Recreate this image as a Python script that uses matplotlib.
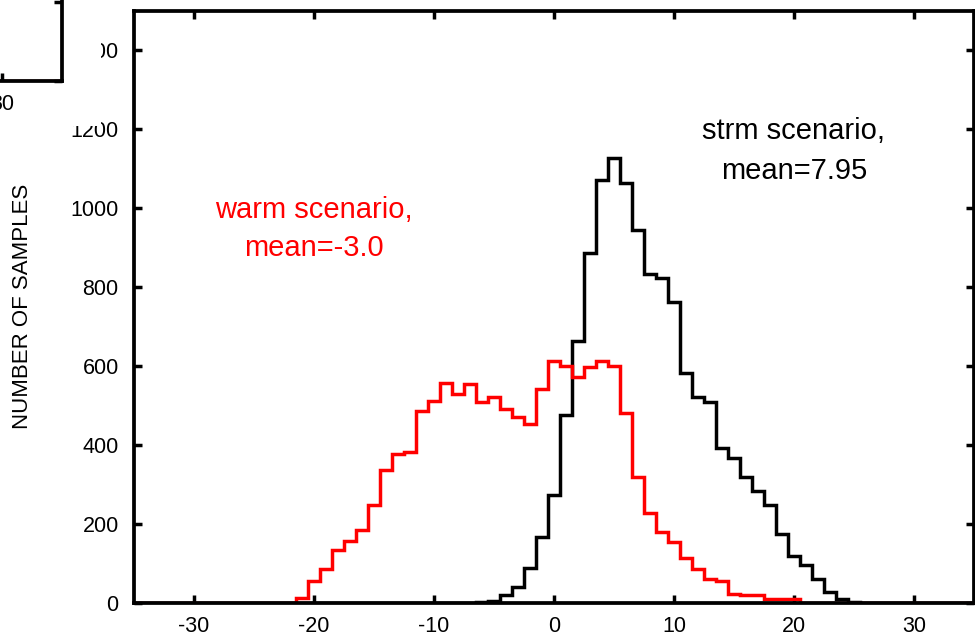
import numpy as np
import matplotlib
matplotlib.use("Agg")
import matplotlib.pyplot as plt
from matplotlib.patches import Rectangle

plt.rcParams['font.family'] = ['Liberation Sans', 'DejaVu Sans']
plt.rcParams['axes.unicode_minus'] = False

# ---- data (bin centres, 1-unit bins) ----
warm_start = -21
warm_counts = [12, 56, 85, 134, 158, 185, 248, 337, 376, 383, 486, 511, 558, 529,
               554, 508, 521, 491, 471, 453, 543, 612, 599, 573, 598, 613, 601,
               481, 320, 228, 181, 154, 115, 85, 62, 56, 24, 19, 19, 9, 9, 9]
strm_start = -6
strm_counts = [2, 6, 20, 40, 88, 168, 273, 476, 664, 887, 1071, 1126, 1064, 944,
               833, 822, 763, 583, 521, 510, 392, 366, 320, 284, 248, 175, 119,
               96, 60, 29, 9, 3, 1, 1]
inset_counts = [0, 0, 0, 0, 0, 0, 0, 0, 0, 0, 0]   # visible tail of left panel, centres 25..35
inset_start = 25

x_ticks = [-30, -20, -10, 0, 10, 20, 30]
y_ticks = [0, 200, 400, 600, 800, 1000, 1200, 1400]
xlim = (-35, 35)
ylim = (0, 1500)

centres = np.arange(xlim[0], xlim[1] + 1)


def full(start, counts):
    v = np.zeros(len(centres))
    i0 = start - xlim[0]
    v[i0:i0 + len(counts)] = counts
    return v


edges = np.concatenate([[xlim[0]], centres[:-1] + 0.5, [xlim[1]]])

W, H = 975, 636
fig = plt.figure(figsize=(W / 100, H / 100), dpi=100)
fig.patch.set_facecolor('white')

L, R, T, B = 134, 974, 10.5, 603
ax = fig.add_axes([L / W, (H - B) / H, (R - L) / W, (B - T) / H])

lw = 2.5
ax.stairs(full(strm_start, strm_counts), edges, color='black', lw=lw, baseline=None, zorder=2)
ax.stairs(full(warm_start, warm_counts), edges, color='#ff0000', lw=lw, baseline=None, zorder=2.1)

ax.set_xlim(*xlim)
ax.set_ylim(*ylim)
ax.set_xticks(x_ticks)
ax.set_yticks(y_ticks)
ax.tick_params(axis='both', which='major', direction='in', length=6, width=2.5,
               top=True, right=True, labelsize=15.5, colors='black')
ax.tick_params(axis='x', pad=9)
ax.tick_params(axis='y', pad=11)
for s in ax.spines.values():
    s.set_linewidth(2.7)
ax.set_ylabel('NUMBER OF SAMPLES', fontsize=16)
ax.yaxis.set_label_coords((33 - L) / (R - L), 0.5)

ax.text(-20.0, 995, 'warm scenario,', color='#ff0000', fontsize=21, ha='center', va='center')
ax.text(-20.0, 900, 'mean=-3.0', color='#ff0000', fontsize=21, ha='center', va='center')
ax.text(20.0, 1195, 'strm scenario,', color='black', fontsize=21, ha='center', va='center')
ax.text(20.0, 1094, 'mean=7.95', color='black', fontsize=21, ha='center', va='center')

# white block from the neighbouring panel that hides part of the top y labels
fig.patches.append(Rectangle((0, (H - 126) / H), 101 / W, 126 / H,
                             transform=fig.transFigure, facecolor='white',
                             edgecolor='none', zorder=1))

# neighbouring panel (only its lower-right corner is visible)
iR, iB = 62, 81
ih = B - T
iw = R - L
ax2 = fig.add_axes([(iR - iw) / W, (H - iB) / H, iw / W, ih / H], zorder=2)
ax2.set_facecolor('none')
ic = np.arange(inset_start, inset_start + len(inset_counts))
ax2.stairs(inset_counts, np.concatenate([ic - 0.5, [ic[-1] + 0.5]]), color='#cc0000',
           lw=lw, baseline=None)
ax2.set_xlim(*xlim)
ax2.set_ylim(*ylim)
ax2.set_xticks(x_ticks)
ax2.set_yticks(y_ticks)
ax2.tick_params(axis='both', direction='in', length=6, width=2.5, top=True, right=True,
                labelsize=15.5, pad=9)
for s in ax2.spines.values():
    s.set_linewidth(2.7)

fig.savefig('out.png', dpi=100, facecolor='white')
